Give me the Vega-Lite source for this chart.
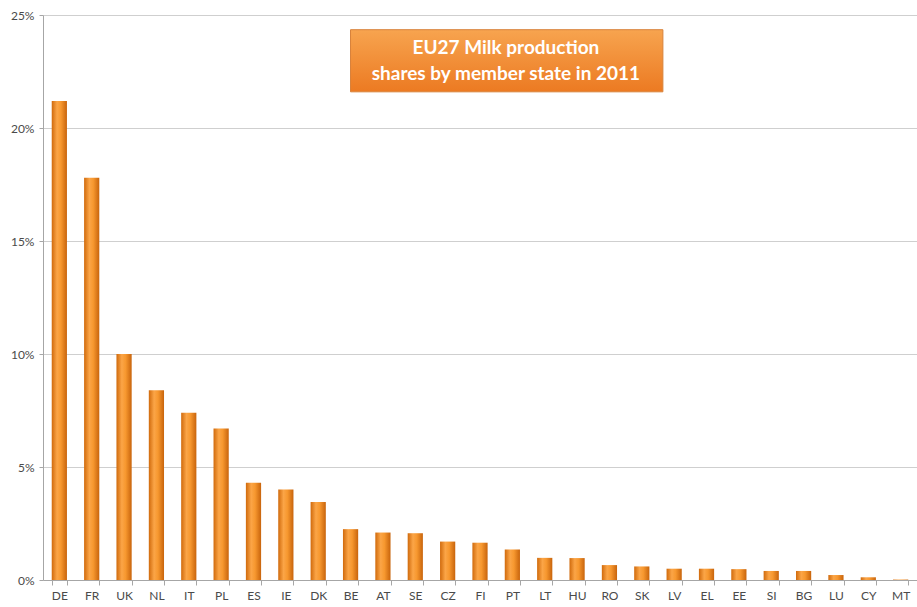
{
  "$schema": "https://vega.github.io/schema/vega-lite/v6.json",
  "autosize": "none",
  "width": 874,
  "height": 565,
  "padding": {"left": 43, "top": 15, "right": 0, "bottom": 27},
  "background": "white",
  "config": {
    "font": "Lato",
    "view": {"stroke": null},
    "axis": {
      "labelFont": "Lato",
      "labelFontSize": 12,
      "labelColor": "#4a4a4a",
      "domainColor": "#a6a6a6",
      "tickColor": "#a6a6a6",
      "gridColor": "#cfcfcf",
      "title": null
    }
  },
  "layer": [
    {
      "data": {
        "values": [
          {"country": "DE", "share": 21.2},
          {"country": "FR", "share": 17.8},
          {"country": "UK", "share": 10.0},
          {"country": "NL", "share": 8.4},
          {"country": "IT", "share": 7.4},
          {"country": "PL", "share": 6.7},
          {"country": "ES", "share": 4.3},
          {"country": "IE", "share": 4.0},
          {"country": "DK", "share": 3.45},
          {"country": "BE", "share": 2.25},
          {"country": "AT", "share": 2.1},
          {"country": "SE", "share": 2.07},
          {"country": "CZ", "share": 1.7},
          {"country": "FI", "share": 1.65},
          {"country": "PT", "share": 1.35},
          {"country": "LT", "share": 0.98},
          {"country": "HU", "share": 0.97},
          {"country": "RO", "share": 0.66},
          {"country": "SK", "share": 0.6},
          {"country": "LV", "share": 0.5},
          {"country": "EL", "share": 0.5},
          {"country": "EE", "share": 0.48},
          {"country": "SI", "share": 0.4},
          {"country": "BG", "share": 0.4},
          {"country": "LU", "share": 0.22},
          {"country": "CY", "share": 0.12},
          {"country": "MT", "share": 0.02}
        ]
      },
      "mark": {
        "type": "bar",
        "color": {
          "gradient": "linear",
          "x1": 0, "x2": 1, "y1": 0, "y2": 0,
          "stops": [
            {"offset": 0, "color": "#d06a0c"},
            {"offset": 0.35, "color": "#fba547"},
            {"offset": 0.6, "color": "#f7982f"},
            {"offset": 1, "color": "#c8640c"}
          ]
        }
      },
      "encoding": {
        "x": {
          "field": "country",
          "type": "nominal",
          "sort": null,
          "scale": {"paddingInner": 0.53, "paddingOuter": 0.27},
          "axis": {"labelAngle": 0, "tickBand": "extent", "tickSize": 5, "labelPadding": 5}
        },
        "y": {
          "field": "share",
          "type": "quantitative",
          "scale": {"domain": [0, 25], "nice": false, "zero": true},
          "axis": {"values": [0, 5, 10, 15, 20, 25], "labelExpr": "datum.value + '%'", "tickSize": 4, "labelPadding": 5, "grid": true}
        }
      }
    },
    {
      "data": {"values": [{}]},
      "mark": {
        "type": "rect",
        "stroke": "#d8823a",
        "strokeWidth": 1,
        "color": {
          "gradient": "linear",
          "x1": 0, "x2": 0, "y1": 0, "y2": 1,
          "stops": [
            {"offset": 0, "color": "#f7a44f"},
            {"offset": 1, "color": "#ec7a22"}
          ]
        }
      },
      "encoding": {
        "x": {"datum": 9.5, "type": "quantitative", "scale": {"domain": [0, 27]}, "axis": null},
        "x2": {"datum": 19.15},
        "y": {"datum": 21.6, "type": "quantitative", "scale": {"domain": [0, 25], "nice": false, "zero": true}},
        "y2": {"datum": 24.35}
      }
    },
    {
      "data": {
        "values": [
          {"line": "EU27 Milk production", "pos": 23.55},
          {"line": "shares by member state in 2011", "pos": 22.38}
        ]
      },
      "mark": {"type": "text", "color": "white", "fontSize": 19, "fontWeight": "bold", "font": "Lato", "align": "center", "baseline": "middle"},
      "encoding": {
        "x": {"datum": 14.3, "type": "quantitative", "scale": {"domain": [0, 27]}, "axis": null},
        "y": {"field": "pos", "type": "quantitative", "scale": {"domain": [0, 25], "nice": false, "zero": true}},
        "text": {"field": "line"}
      }
    }
  ],
  "resolve": {"scale": {"x": "independent"}}
}
